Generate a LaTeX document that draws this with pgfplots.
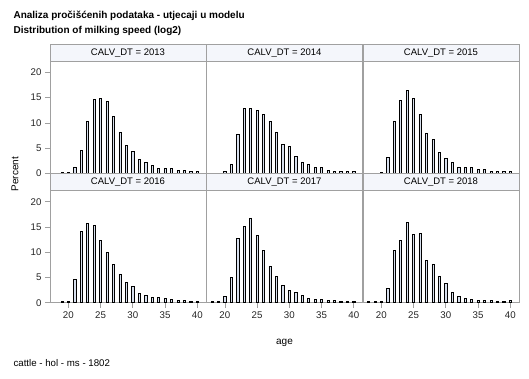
\documentclass[border=0pt]{standalone}
\usepackage{fontspec}
\setmainfont{Liberation Sans}
\usepackage{pgfplots}
\pgfplotsset{compat=1.18}
\definecolor{frame}{HTML}{A0A0A0}
\definecolor{headfill}{HTML}{F4F6FB}
\definecolor{barfill}{HTML}{D8E0EE}
\pgfplotsset{
  panel/.style={scale only axis, width=156pt, height=112pt,
    xmin=17.15, xmax=41.35, ymin=0, ymax=22.2,
    axis line style={frame, line width=0.8pt},
    tick align=outside, major tick length=5pt, tick pos=left,
    xtick={20,25,30,35,40}, ytick={0,5,10,15,20},
    xticklabels={}, yticklabels={},
    xtick style={draw=none}, ytick style={draw=none},
    tick label style={font=\fontsize{9.7}{11}\selectfont, text=black!85},
    /pgf/number format/assume math mode=true,
    clip=false, anchor=north west},
  leftcol/.style={yticklabels={0,5,10,15,20}, ytick style={draw=frame, line width=0.7pt}},
  bottomrow/.style={xticklabels={20,25,30,35,40}, xtick style={draw=frame, line width=0.7pt}},
  bars/.style={ybar, bar width=2.2pt, draw=black, line width=0.65pt, fill=barfill},
}
\newcommand{\header}[1]{%
  \draw[draw=frame, line width=0.8pt, fill=headfill] (rel axis cs:0,1) rectangle (rel axis cs:1,1.1545);
  \node[font=\fontsize{9.5}{11}\selectfont] at (rel axis cs:0.5,1.077) {#1};}
\begin{document}
\begin{tikzpicture}
\useasboundingbox (0pt,0pt) rectangle (529pt,-378pt);
\node[anchor=base west, font=\bfseries\fontsize{10}{12}\selectfont] at (10pt,-18.3pt) {Analiza pročišćenih podataka - utjecaji u modelu};
\node[anchor=base west, font=\bfseries\fontsize{10}{12}\selectfont] at (10pt,-33.3pt) {Distribution of milking speed (log2)};
% top row
\begin{axis}[panel, leftcol, at={(50pt,-61.3pt)}]
\addplot[bars] coordinates {(19,0.2)(20,0.2)(21,1.25)(22,4.6)(23,10.4)(24,14.7)(25,14.85)(26,14.3)(27,11.2)(28,8.2)(29,5.6)(30,4.4)(31,2.8)(32,2.2)(33,1.6)(34,0.9)(35,1.05)(36,1.05)(37,0.5)(38,0.5)(39,0.35)(40,0.3)};
\header{CALV\_DT = 2013}
\end{axis}
\begin{axis}[panel, at={(206.5pt,-61.3pt)}]
\addplot[bars] coordinates {(20,0.45)(21,1.85)(22,7.8)(23,12.9)(24,12.9)(25,12.4)(26,11.75)(27,10.4)(28,8.2)(29,5.8)(30,5.4)(31,3.4)(32,2.25)(33,1.85)(34,1.1)(35,1.1)(36,0.65)(37,0.45)(38,0.45)(39,0.3)(40,0.3)};
\header{CALV\_DT = 2014}
\end{axis}
\begin{axis}[panel, at={(363pt,-61.3pt)}]
\addplot[bars] coordinates {(20,0.2)(21,3.2)(22,10.4)(23,14.5)(24,16.4)(25,14.9)(26,11.75)(27,8.0)(28,6.7)(29,4.2)(30,3.0)(31,2.1)(32,1.25)(33,1.1)(34,1.1)(35,0.7)(36,0.7)(37,0.45)(38,0.35)(39,0.45)(40,0.35)};
\header{CALV\_DT = 2015}
\end{axis}
% bottom row
\begin{axis}[panel, leftcol, bottomrow, at={(50pt,-190.7pt)}]
\addplot[bars] coordinates {(19,0.2)(20,0.2)(21,4.6)(22,14.2)(23,15.7)(24,15.3)(25,12.3)(26,10.0)(27,7.6)(28,5.7)(29,4.0)(30,3.2)(31,1.85)(32,1.4)(33,1.1)(34,1.1)(35,0.85)(36,0.6)(37,0.45)(38,0.45)(39,0.35)(40,0.35)};
\header{CALV\_DT = 2016}
\end{axis}
\begin{axis}[panel, bottomrow, at={(206.5pt,-190.7pt)}]
\addplot[bars] coordinates {(18,0.2)(19,0.35)(20,1.25)(21,4.95)(22,12.7)(23,15.2)(24,16.8)(25,13.3)(26,10.4)(27,7.3)(28,5.15)(29,3.4)(30,2.4)(31,2.0)(32,1.4)(33,0.85)(34,0.7)(35,0.7)(36,0.45)(37,0.45)(38,0.35)(39,0.35)(40,0.35)};
\header{CALV\_DT = 2017}
\end{axis}
\begin{axis}[panel, bottomrow, at={(363pt,-190.7pt)}]
\addplot[bars] coordinates {(18,0.2)(19,0.2)(20,0.35)(21,2.85)(22,10.4)(23,12.3)(24,15.9)(25,13.5)(26,13.7)(27,8.45)(28,7.7)(29,5.3)(30,3.75)(31,2.05)(32,1.25)(33,0.85)(34,0.65)(35,0.45)(36,0.45)(37,0.45)(38,0.35)(39,0.25)(40,0.45)};
\header{CALV\_DT = 2018}
\end{axis}
\node[rotate=90, font=\fontsize{10}{12}\selectfont] at (15pt,-174pt) {Percent};
\node[font=\fontsize{10}{12}\selectfont] at (284.5pt,-343pt) {age};
\node[anchor=base west, font=\fontsize{9.7}{11}\selectfont] at (10pt,-366pt) {cattle - hol - ms - 1802};
\end{tikzpicture}
\end{document}
